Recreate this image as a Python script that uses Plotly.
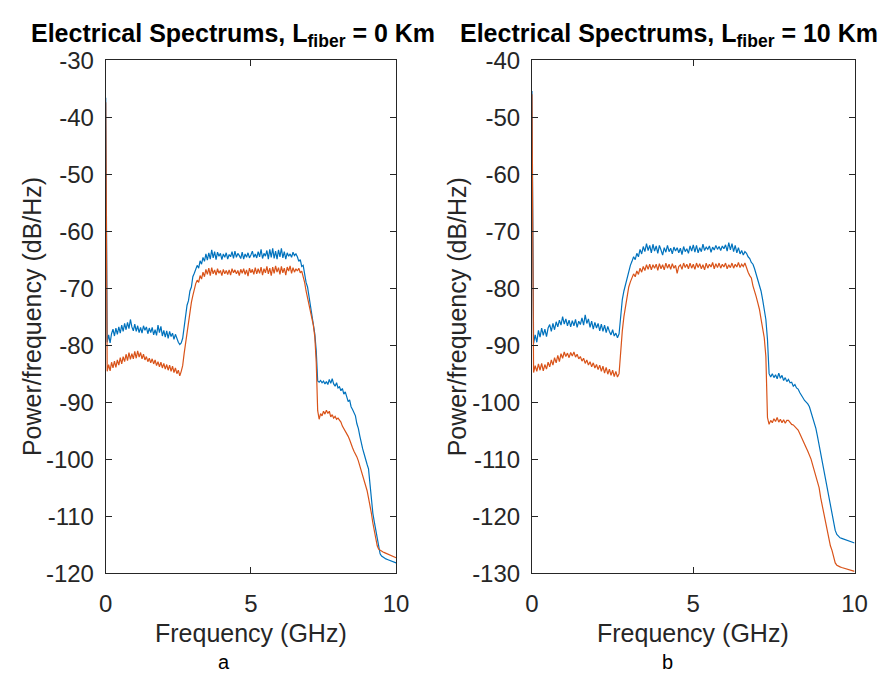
import plotly.graph_objects as go

# ---------------- data ----------------
freq_ghz = [round(i * 0.05, 2) for i in range(201)]  # sampling grid 0..10 GHz

left_blue = [
    -36.6, -79.5, -78.2, -79.6, -78.0, -77.2, -78.4, -77.0, -78.1, -76.8,
    -77.9, -76.5, -77.6, -76.2, -77.3, -76.0, -77.1, -75.5, -76.8, -77.5,
    -76.3, -77.6, -76.6, -77.8, -76.9, -77.9, -76.6, -77.4, -76.8, -78.0,
    -77.0, -77.8, -76.9, -78.2, -77.3, -78.3, -76.5, -77.8, -76.7, -78.4,
    -77.4, -78.6, -77.5, -78.8, -77.6, -78.5, -77.9, -79.0, -78.1, -78.9,
    -79.5, -79.9, -79.6, -78.8, -76.5, -74.5, -73.0, -72.2, -70.5, -69.8,
    -68.0, -67.4, -66.8, -66.0, -66.5, -65.2, -65.8, -64.6, -65.3, -64.0,
    -65.1, -63.8, -64.9, -63.3, -64.7, -63.6, -65.0, -63.7, -64.4, -63.9,
    -65.0, -64.0, -64.6, -63.8, -64.9, -64.1, -64.5, -63.6, -64.8, -63.5,
    -64.6, -63.9, -64.3, -64.8, -63.7, -64.9, -64.0, -64.6, -63.8, -64.7,
    -64.2, -63.5, -64.6, -64.0, -64.7, -63.6, -64.5, -63.2, -64.8, -63.9,
    -64.4, -63.4, -64.9, -63.2, -64.6, -63.0, -64.8, -63.5, -64.9, -63.3,
    -64.5, -63.0, -64.7, -63.6, -64.9, -63.8, -64.4, -64.0, -64.6, -63.7,
    -64.3, -64.0, -64.5, -65.3, -65.0, -66.2, -66.0, -67.8, -69.0, -69.8,
    -71.5, -73.0, -74.5, -76.0, -78.0, -81.0, -86.3, -86.5, -86.2, -86.6,
    -86.3, -86.8, -86.4, -86.9, -86.0, -86.7, -85.9, -86.8, -87.2, -86.6,
    -87.5, -87.3, -88.0, -87.6, -88.6, -88.2, -89.2, -89.9, -89.6, -90.8,
    -91.3, -91.9, -92.4, -93.8, -94.6, -95.9, -97.3, -98.2, -99.1, -100.3,
    -100.9, -101.7, -104.5, -107.9, -109.5, -111.0, -112.5, -114.2, -115.8, -116.6,
    -117.0, -117.2, -117.4, -117.5, -117.6, -117.7, -117.8, -117.9, -118.0, -118.1,
    -118.2,
]

left_orange = [
    -37.4, -84.6, -83.4, -84.5, -83.0, -84.0, -82.8, -83.9, -82.6, -83.5,
    -82.2, -83.3, -82.0, -82.9, -81.6, -82.7, -81.3, -82.5, -81.5, -82.4,
    -81.1, -82.3, -81.0, -82.1, -81.3, -82.4, -81.6, -82.6, -82.0, -82.9,
    -82.3, -83.1, -82.4, -83.3, -82.6, -83.6, -82.9, -83.8, -83.0, -84.0,
    -83.2, -84.2, -83.4, -84.4, -83.5, -84.6, -83.7, -84.8, -84.0, -85.0,
    -84.4, -85.4, -84.6, -83.6, -81.5, -79.5, -77.5, -75.8, -73.7, -72.5,
    -71.3, -70.0, -69.2, -68.6, -69.0, -67.8, -68.4, -67.2, -68.0, -66.7,
    -67.6, -66.5, -67.8, -66.4, -67.5, -66.8, -67.7, -66.6, -67.4, -66.9,
    -67.8, -66.7, -67.5, -66.9, -67.6, -66.8, -67.7, -66.6, -67.3, -66.8,
    -67.5, -66.9, -67.8, -66.7, -67.4, -66.6, -67.6, -66.8, -67.9, -66.5,
    -67.3, -66.7, -67.6, -66.4, -67.5, -66.6, -67.4, -66.3, -67.7, -66.6,
    -67.3, -66.2, -67.5, -66.5, -67.8, -66.3, -67.4, -66.1, -67.2, -66.4,
    -67.6, -66.2, -67.3, -66.5, -67.7, -66.3, -67.0, -66.1, -67.4, -66.4,
    -67.2, -66.6, -67.0, -66.5, -67.3, -67.0, -67.8, -69.0, -70.5, -71.8,
    -73.0, -74.0, -75.2, -76.5, -78.5, -83.0, -91.5, -93.0, -92.0, -92.4,
    -91.6, -92.1, -91.4, -92.0, -91.6, -92.6, -92.2, -92.8, -92.5, -93.0,
    -92.8, -93.2, -93.5, -94.2, -94.6, -95.0, -95.4, -96.0, -96.6, -97.5,
    -98.0, -98.6, -99.0, -99.6, -100.3, -101.2, -102.1, -103.0, -103.8, -104.5,
    -105.5, -106.8, -108.0, -109.5, -111.2, -112.7, -114.3, -115.2, -115.8, -116.0,
    -116.1, -116.3, -116.4, -116.5, -116.6, -116.8, -116.9, -117.0, -117.1, -117.2,
    -117.3,
]

right_blue = [
    -45.4, -89.7, -88.2, -89.5, -87.4, -88.6, -87.0, -88.3, -87.2, -88.5,
    -87.0, -86.4, -87.6, -86.2, -87.3, -85.9, -86.8, -85.6, -86.5, -85.0,
    -86.3, -85.4, -86.6, -85.6, -86.8, -85.7, -86.6, -85.5, -86.9, -85.8,
    -86.4, -85.2, -86.5, -84.7, -86.2, -85.4, -86.9, -85.8, -87.2, -86.0,
    -87.0, -86.2, -87.5, -86.3, -87.6, -86.5, -87.8, -86.7, -87.6, -88.2,
    -87.3, -88.4, -87.9, -88.7, -88.0, -84.5, -82.0, -80.5, -79.3, -78.0,
    -76.8, -76.0, -75.3, -74.5, -75.0, -73.9, -74.5, -73.2, -74.0, -72.7,
    -73.6, -72.2, -73.4, -72.5, -73.8, -72.3, -73.5, -72.6, -73.9, -72.5,
    -73.3, -74.2, -72.9, -73.7, -72.5, -73.6, -73.0, -74.0, -72.8, -73.5,
    -72.9, -73.8, -73.0, -74.1, -72.7, -73.6, -73.1, -73.9, -72.6, -73.5,
    -72.4, -73.7, -72.5, -73.8, -72.9, -73.6, -72.3, -73.4, -72.8, -73.2,
    -72.6, -73.7, -72.8, -73.3, -72.5, -73.2, -72.7, -73.4, -72.6, -73.1,
    -72.4, -73.5, -72.0, -73.3, -72.2, -73.6, -72.5, -73.8, -72.9, -74.0,
    -73.4, -74.2, -73.6, -73.9, -74.5, -74.8, -75.5, -75.8, -76.6, -77.5,
    -78.3, -79.5, -80.5, -82.0, -83.5, -85.5, -89.0, -95.0, -95.6, -95.0,
    -95.7, -95.2, -95.9, -94.9, -95.8, -95.3, -96.2, -95.7, -96.4, -96.0,
    -96.6, -96.5, -97.2, -96.9, -97.5, -97.7, -98.3, -98.8, -99.2, -99.7,
    -100.0, -100.3, -100.8, -101.7, -102.5, -103.6, -104.6, -106.0, -107.5, -109.2,
    -110.8, -112.3, -113.8, -115.2, -116.5, -118.5, -120.0, -121.5, -122.5, -123.2,
    -123.6, -123.8, -123.9, -124.0, -124.1, -124.2, -124.3, -124.4, -124.5, -124.6,
    -124.7,
]

right_orange = [
    -46.0, -94.8, -93.6, -94.6, -93.3, -94.4, -93.2, -94.5, -93.4, -94.2,
    -93.0, -93.8, -92.6, -93.5, -92.2, -93.1, -91.8, -92.9, -91.5, -92.3,
    -91.2, -92.0, -91.4, -92.2, -91.3, -91.9, -91.2, -92.1, -91.6, -92.4,
    -92.0, -92.8, -92.3, -93.2, -92.6, -93.5, -92.9, -93.8, -93.1, -94.0,
    -93.4, -94.3, -93.5, -94.6, -93.7, -94.9, -93.9, -95.1, -94.2, -95.3,
    -94.4, -95.5, -94.6, -95.6, -95.0, -90.5, -87.5, -85.0, -83.0, -81.2,
    -79.8, -78.9, -78.2, -77.5, -78.0, -77.0, -77.6, -76.5, -77.2, -76.2,
    -76.9, -75.9, -76.7, -75.8, -76.8, -75.9, -76.5, -75.8, -76.9, -75.7,
    -76.6, -75.9, -76.8, -75.6, -76.5, -75.8, -76.7, -75.7, -76.5, -76.0,
    -77.4, -76.2, -75.9, -76.7, -75.6, -76.4, -75.8, -76.6, -75.6, -76.5,
    -75.8, -76.7, -75.6, -76.4, -75.7, -76.6, -75.9, -76.8, -75.6, -76.5,
    -75.8, -76.3, -75.5, -76.6, -75.7, -76.4, -75.6, -76.5, -75.8, -76.3,
    -75.6, -76.6, -75.9, -76.4, -75.6, -76.5, -75.8, -76.3, -75.5, -76.4,
    -75.8, -76.2, -75.6, -76.5, -77.2, -77.8, -78.2, -79.6, -80.4, -81.5,
    -82.6, -83.7, -85.4, -87.2, -88.7, -92.0, -102.7, -103.9, -103.2, -103.6,
    -102.9, -103.4, -102.7, -103.5, -103.0, -103.6, -103.1, -103.7, -103.2, -103.2,
    -103.6, -103.9, -104.0, -104.3, -104.6, -104.9, -105.5, -106.2, -106.8, -107.5,
    -108.0, -108.6, -109.2, -110.0, -111.0, -112.0, -113.0, -114.0, -115.0, -116.8,
    -118.3, -119.8, -121.3, -122.8, -124.0, -125.2, -126.0, -127.0, -128.2, -128.6,
    -128.8, -128.9, -129.0, -129.1, -129.2, -129.3, -129.4, -129.5, -129.5, -129.6,
    -129.7,
]

x_tick_vals = [0, 5, 10]
x_tick_text = ["0", "5", "10"]
left_y_vals = [-120, -110, -100, -90, -80, -70, -60, -50, -40, -30]
right_y_vals = [-130, -120, -110, -100, -90, -80, -70, -60, -50, -40]
left_y_text = [str(v) for v in left_y_vals]
right_y_text = [str(v) for v in right_y_vals]

title_left = "Electrical Spectrums, L<sub>fiber</sub> = 0 Km"
title_right = "Electrical Spectrums, L<sub>fiber</sub> = 10 Km"
xlabel = "Frequency (GHz)"
ylabel = "Power/frequency (dB/Hz)"
panel_labels = ["a", "b"]

# ---------------- figure ----------------
W, H = 893, 688
BLUE = "#0072BD"
ORANGE = "#D95319"
AXC = "#262626"
FONT = "Liberation Sans, Arial, sans-serif"


def px(x):
    return x / W


def py(y):
    return 1 - y / H


fig = go.Figure()
fig.add_trace(go.Scatter(x=freq_ghz, y=left_blue, mode="lines", line=dict(color=BLUE, width=1.2),
                         xaxis="x", yaxis="y", showlegend=False))
fig.add_trace(go.Scatter(x=freq_ghz, y=left_orange, mode="lines", line=dict(color=ORANGE, width=1.2),
                         xaxis="x", yaxis="y", showlegend=False))
fig.add_trace(go.Scatter(x=freq_ghz, y=right_blue, mode="lines", line=dict(color=BLUE, width=1.2),
                         xaxis="x2", yaxis="y2", showlegend=False))
fig.add_trace(go.Scatter(x=freq_ghz, y=right_orange, mode="lines", line=dict(color=ORANGE, width=1.2),
                         xaxis="x2", yaxis="y2", showlegend=False))

common_axis = dict(showgrid=False, zeroline=False, showline=True, linecolor=AXC, linewidth=1,
                   mirror="ticks", ticks="inside", ticklen=6, tickcolor=AXC, tickwidth=1,
                   tickfont=dict(family=FONT, size=24, color=AXC))

ydom = [py(582), py(48)]
fig.update_layout(
    width=W, height=H, margin=dict(l=0, r=0, t=0, b=0),
    paper_bgcolor="white", plot_bgcolor="white",
    xaxis=dict(domain=[px(101), px(398)], range=[0, 10], anchor="y",
               tickvals=x_tick_vals, ticktext=x_tick_text, ticklabelstandoff=9, **common_axis),
    yaxis=dict(domain=ydom, range=[-120, -30], anchor="x",
               tickvals=left_y_vals, ticktext=left_y_text, ticklabelstandoff=6, **common_axis),
    xaxis2=dict(domain=[px(537), px(867)], range=[0, 10], anchor="y2",
                tickvals=x_tick_vals, ticktext=x_tick_text, ticklabelstandoff=9, **common_axis),
    yaxis2=dict(domain=ydom, range=[-130, -40], anchor="x2",
                tickvals=right_y_vals, ticktext=right_y_text, ticklabelstandoff=6, **common_axis),
)

ann = []
ann.append(dict(text="<b>" + title_left + "</b>", x=px(231), y=py(22), xanchor="center", yanchor="middle",
                font=dict(family=FONT, size=25, color="black")))
ann.append(dict(text="<b>" + title_right + "</b>", x=px(677), y=py(22), xanchor="center", yanchor="middle",
                font=dict(family=FONT, size=25, color="black")))
for cx in (px(250), px(702)):
    ann.append(dict(text=xlabel, x=cx, y=py(644), xanchor="center", yanchor="middle",
                    font=dict(family=FONT, size=25, color=AXC)))
for cx, lab in zip((px(222), px(676)), panel_labels):
    ann.append(dict(text=lab, x=cx, y=py(674), xanchor="center", yanchor="middle",
                    font=dict(family=FONT, size=20, color="black")))
for cx in (px(25), px(460)):
    ann.append(dict(text=ylabel, x=cx, y=py(315), xanchor="center", yanchor="middle", textangle=-90,
                    font=dict(family=FONT, size=25, color=AXC)))
for a in ann:
    a.update(xref="paper", yref="paper", showarrow=False)
fig.update_layout(annotations=ann)

fig.write_html("out.html")
